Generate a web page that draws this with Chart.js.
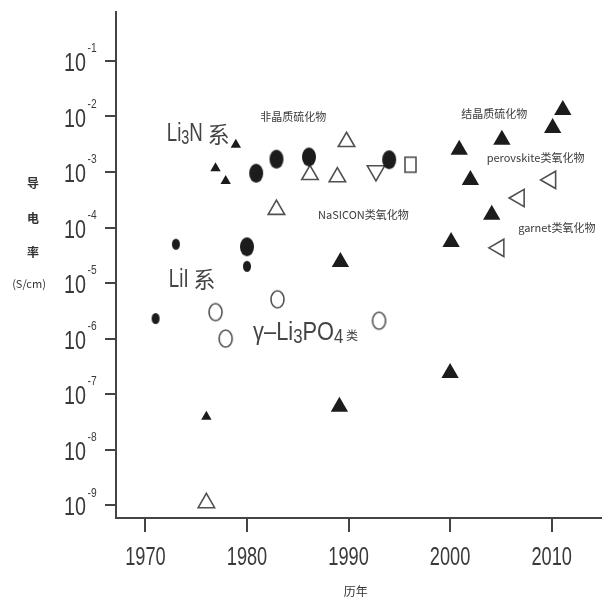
<!DOCTYPE html>
<html>
<head>
<meta charset="utf-8">
<script src="https://cdn.jsdelivr.net/npm/chart.js"></script>
<style>
  body { margin: 0; background: #fff; }
  #wrap { width: 613px; height: 604px; }
</style>
</head>
<body>
<div id="wrap"><canvas id="cond" width="613" height="604"></canvas></div>
<script>
// year, conductivity (S/cm)
const li3nYears = [1978.9, 1976.9, 1977.9, 1976.0];
const li3nVals  = [3.1e-3, 1.17e-3, 6.9e-4, 3.9e-8];

const liiYears = [1971.0, 1973.0, 1980.0];
const liiVals  = [2.3e-6, 5.0e-5, 2.0e-5];

const amorphYears = [1980.0, 1980.9, 1982.9, 1986.1, 1994.0];
const amorphVals  = [4.5e-5, 9.5e-4, 1.7e-3, 1.86e-3, 1.66e-3];

const openTriYears = [1976.0, 1982.9, 1986.2, 1988.9, 1989.8];
const openTriVals  = [1.1e-9, 2.1e-4, 8.9e-4, 8.1e-4, 3.5e-3];

const downTriYears = [1992.7];
const downTriVals  = [1.05e-3];

const squareYears = [1996.1];
const squareVals  = [1.35e-3];

const solidTriYears = [1989.2, 1989.1, 2000.0, 2000.1, 2000.9, 2002.0, 2004.1, 2005.1, 2010.1, 2011.1];
const solidTriVals  = [2.4e-5, 5.9e-8, 2.4e-7, 5.5e-5, 2.5e-3, 7.2e-4, 1.7e-4, 3.8e-3, 6.2e-3, 1.3e-2];

const garnetYears = [2004.8, 2006.8, 2009.9];
const garnetVals  = [4.3e-5, 3.4e-4, 7.2e-4];

const lpoYears = [1976.9, 1977.9, 1983.0, 1993.0];
const lpoVals  = [3.0e-6, 1.0e-6, 5.1e-6, 2.1e-6];

const xTicks = [1970, 1980, 1990, 2000, 2010];
const yExps = [-9, -8, -7, -6, -5, -4, -3, -2, -1];

// text labels placed at (year, value); part kinds: 0 normal, 1 subscript, 2 small cjk, 3 big cjk
const notes = [
  { parts: [['Li', 0], ['3', 1], ['N', 0], [' 系', 3]], x: 1972.1, y: 4.8e-3, big: true, sx: 0.72 },
  { parts: [['LiI', 0], [' 系', 3]], x: 1972.3, y: 1.15e-5, big: true, sx: 0.72 },
  { parts: [['γ–Li', 0], ['3', 1], ['PO', 0], ['4', 1], [' 类', 2]], x: 1980.6, y: 1.26e-6, big: true, sx: 0.84 },
  { parts: [['非晶质硫化物', 0]], x: 1981.3, y: 9.8e-3 },
  { parts: [['结晶质硫化物', 0]], x: 2001.1, y: 1.1e-2 },
  { parts: [['perovskite类氧化物', 0]], x: 2003.6, y: 1.8e-3 },
  { parts: [['NaSICON类氧化物', 0]], x: 1987.0, y: 1.7e-4 },
  { parts: [['garnet类氧化物', 0]], x: 2006.7, y: 9.8e-5 }
];

const pts = (xs, ys) => xs.map((x, i) => ({ x: x, y: ys[i] }));

const DARK = '#1c1c1c';
const GREY = '#505050';
const SANS = '"Liberation Sans", Arial, sans-serif';
const CJK = '"Noto Sans CJK SC", sans-serif';

function ellipse(w, h, fill) {
  const c = document.createElement('canvas');
  c.width = w + 4; c.height = h + 4;
  const g = c.getContext('2d');
  g.beginPath();
  g.ellipse(c.width / 2, c.height / 2, w / 2, h / 2, 0, 0, Math.PI * 2);
  if (fill) { g.fillStyle = DARK; g.fill(); }
  else { g.strokeStyle = GREY; g.lineWidth = 1.6; g.stroke(); }
  return c;
}
function box(w, h) {
  const c = document.createElement('canvas');
  c.width = w + 4; c.height = h + 4;
  const g = c.getContext('2d');
  g.strokeStyle = GREY; g.lineWidth = 1.6;
  g.strokeRect(2, 2, w, h);
  return c;
}

const bigDot = ellipse(14, 19, true);
const smallDot = ellipse(8, 11, true);
const ring = ellipse(13, 17, false);
const square = box(11, 15);

// squeezed text, returns drawn width
function narrow(ctx, s, x, y, font, sx, align) {
  ctx.font = font;
  const w = ctx.measureText(s).width * sx;
  let left = x;
  if (align === 'right') left = x - w;
  if (align === 'center') left = x - w / 2;
  ctx.save();
  ctx.translate(left, y);
  ctx.scale(sx, 1);
  ctx.textAlign = 'left';
  ctx.fillText(s, 0, 0);
  ctx.restore();
  return w;
}

const labelPlugin = {
  id: 'labels',
  afterDraw(chart) {
    const ctx = chart.ctx;
    const xs = chart.scales.x, ys = chart.scales.y;
    ctx.save();
    ctx.textBaseline = 'middle';
    ctx.fillStyle = '#3a3a3a';

    // y tick labels 10^n
    ys.ticks.forEach(t => {
      const py = ys.getPixelForValue(t.value);
      const e = Math.round(Math.log10(t.value));
      narrow(ctx, '10', 86, py + 3, '26px ' + SANS, 0.76, 'right');
      narrow(ctx, String(e), 87.5, py - 12, '12px ' + SANS, 0.85, 'left');
    });

    // x tick labels
    xs.ticks.forEach(t => {
      const px = xs.getPixelForValue(t.value);
      narrow(ctx, String(t.value), px, 558, '26px ' + SANS, 0.7, 'center');
    });

    // notes
    notes.forEach(n => {
      let px = xs.getPixelForValue(n.x);
      const py = ys.getPixelForValue(n.y);
      ctx.fillStyle = n.big ? '#444' : '#3a3a3a';
      n.parts.forEach(([s, kind]) => {
        if (!n.big) {
          ctx.font = '11px ' + CJK;
          ctx.textAlign = 'left';
          ctx.fillText(s, px, py);
          px += ctx.measureText(s).width;
        } else if (kind === 0) {
          px += narrow(ctx, s, px, py, '26px ' + SANS, n.sx, 'left');
        } else if (kind === 1) {
          px += narrow(ctx, s, px, py + 4, '20px ' + SANS, n.sx, 'left');
        } else if (kind === 2) {
          px += narrow(ctx, s, px, py + 2, '12px ' + CJK, 1, 'left');
        } else {
          px += narrow(ctx, s, px, py, '23px ' + CJK, 0.95, 'left');
        }
      });
    });

    // axis titles
    ctx.fillStyle = '#333';
    ctx.textAlign = 'center';
    ctx.font = 'bold 12px ' + CJK;
    ctx.fillText('导', 33, 183);
    ctx.fillText('电', 33, 218);
    ctx.fillText('率', 33, 252);
    ctx.font = '11px ' + CJK;
    ctx.fillText('(S/cm)', 29, 284);
    ctx.font = '12px ' + CJK;
    ctx.fillText('历年', (chart.chartArea.left + chart.chartArea.right) / 2 - 3, 591);
    ctx.restore();
  }
};

new Chart(document.getElementById('cond'), {
  type: 'scatter',
  data: {
    datasets: [
      { data: pts(li3nYears, li3nVals), pointStyle: 'triangle', radius: 6, backgroundColor: DARK, borderColor: DARK, borderWidth: 0 },
      { data: pts(liiYears, liiVals), pointStyle: smallDot },
      { data: pts(amorphYears, amorphVals), pointStyle: bigDot },
      { data: pts(openTriYears, openTriVals), pointStyle: 'triangle', radius: 9.5, backgroundColor: 'rgba(0,0,0,0)', borderColor: GREY, borderWidth: 1.6 },
      { data: pts(downTriYears, downTriVals), pointStyle: 'triangle', rotation: 180, radius: 10, backgroundColor: 'rgba(0,0,0,0)', borderColor: GREY, borderWidth: 1.6 },
      { data: pts(squareYears, squareVals), pointStyle: square },
      { data: pts(solidTriYears, solidTriVals), pointStyle: 'triangle', radius: 10, backgroundColor: DARK, borderColor: DARK, borderWidth: 0 },
      { data: pts(garnetYears, garnetVals), pointStyle: 'triangle', rotation: -90, radius: 10, backgroundColor: 'rgba(0,0,0,0)', borderColor: GREY, borderWidth: 1.6 },
      { data: pts(lpoYears, lpoVals), pointStyle: ring }
    ]
  },
  options: {
    responsive: false,
    animation: false,
    events: [],
    layout: { padding: { top: 12, right: 6, left: 0, bottom: 0 } },
    plugins: { legend: { display: false }, tooltip: { enabled: false } },
    scales: {
      x: {
        type: 'linear',
        min: 1967.1,
        max: 2014.9,
        afterBuildTicks: s => { s.ticks = xTicks.map(v => ({ value: v })); },
        afterFit: s => { s.height = 86; },
        border: { color: '#444', width: 2 },
        grid: { drawOnChartArea: false, drawTicks: true, tickLength: 14, color: '#444', lineWidth: 2 },
        ticks: { display: false }
      },
      y: {
        type: 'logarithmic',
        min: Math.pow(10, -9.23),
        max: Math.pow(10, -0.12),
        afterBuildTicks: s => { s.ticks = yExps.map(e => ({ value: Math.pow(10, e) })); },
        afterFit: s => { s.width = 116; },
        border: { color: '#444', width: 2 },
        grid: { drawOnChartArea: false, drawTicks: true, tickLength: 11, color: '#444', lineWidth: 2 },
        ticks: { display: false }
      }
    }
  },
  plugins: [labelPlugin]
});
</script>
</body>
</html>
